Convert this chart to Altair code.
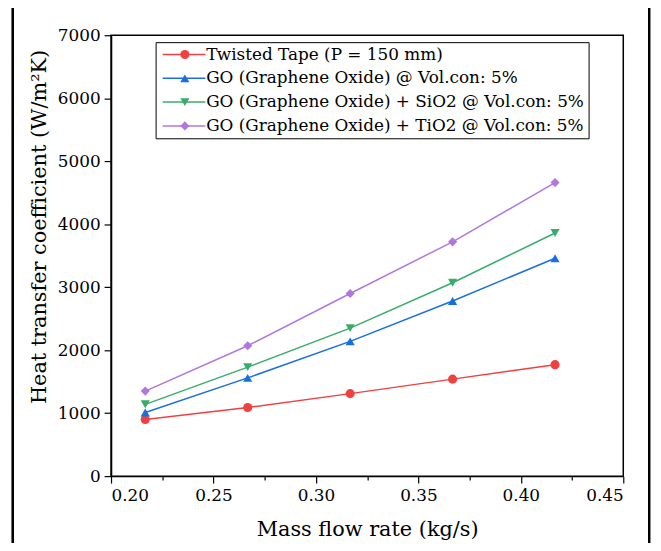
import altair as alt
import pandas as pd

# ---- data ----
mass_flow = [0.2167, 0.2667, 0.3167, 0.3667, 0.4167]
series_names = [
    "Twisted Tape (P = 150 mm)",
    "GO (Graphene Oxide) @ Vol.con: 5%",
    "GO (Graphene Oxide) + SiO2 @ Vol.con: 5%",
    "GO (Graphene Oxide) + TiO2 @ Vol.con: 5%",
]
twisted_tape = [900, 1090, 1310, 1540, 1770]
go_only = [1010, 1560, 2140, 2780, 3460]
go_sio2 = [1140, 1730, 2350, 3070, 3860]
go_tio2 = [1350, 2070, 2900, 3720, 4660]

colors = ["#F14040", "#1A6FDF", "#37AD6B", "#B177DE"]
shapes = ["circle", "triangle-up", "triangle-down", "diamond"]

x_ticks = [0.2, 0.225, 0.25, 0.275, 0.3, 0.325, 0.35, 0.375, 0.4, 0.425, 0.45]
y_ticks = list(range(0, 7001, 500))

rows = []
for order, (name, vals) in enumerate(zip(series_names, [twisted_tape, go_only, go_sio2, go_tio2])):
    for xv, yv in zip(mass_flow, vals):
        rows.append({"x": xv, "y": yv, "series": name, "order": order})
df = pd.DataFrame(rows)

FONT = "DejaVu Serif"
W, H = 517, 445

common_axis = dict(
    labelFont=FONT,
    titleFont=FONT,
    labelFontSize=17,
    titleFontSize=21,
    titleFontWeight="normal",
    labelColor="black",
    titleColor="black",
    domainColor="black",
    tickColor="black",
    domainWidth=1.5,
    tickWidth=1.2,
    grid=False,
)

x_enc = alt.X(
    "x:Q",
    scale=alt.Scale(domain=[0.2, 0.45], nice=False, zero=False),
    axis=alt.Axis(
        values=x_ticks,
        title="Mass flow rate (kg/s)",
        labelExpr="round(datum.value*1000) % 50 === 0 ? format(datum.value, '.2f') : ''",
        tickSize={"condition": {"test": "round(datum.value*1000) % 50 === 0", "value": 7}, "value": 4},
        labelPadding=5,
        titlePadding=15,
        **common_axis,
    ),
)
y_enc = alt.Y(
    "y:Q",
    scale=alt.Scale(domain=[0, 7000], nice=False),
    axis=alt.Axis(
        values=y_ticks,
        title="Heat transfer coefficient (W/m\u00b2K)",
        labelExpr="datum.value % 1000 === 0 ? datum.value : ''",
        tickSize={"condition": {"test": "datum.value % 1000 === 0", "value": 7}, "value": 4},
        labelPadding=4,
        titleX=-62,
        titleY=193,
        **common_axis,
    ),
)

LEG_FS = 17

lines = alt.Chart(df).mark_line(strokeWidth=1.5).encode(
    x=x_enc,
    y=y_enc,
    stroke=alt.Stroke(
        "series:N",
        scale=alt.Scale(domain=series_names, range=colors),
        legend=alt.Legend(
            title=None,
            orient="none",
            legendX=45,
            legendY=7,
            symbolType="M-1,0H7",
            symbolSize=116,
            symbolStrokeWidth=1.5,
            labelFont=FONT,
            labelFontSize=LEG_FS,
            labelColor="black",
            labelLimit=1000,
            strokeColor="black",
            padding=4,
            rowPadding=6,
            labelOffset=30,
        ),
    ),
    detail="series:N",
    order="x:Q",
)

points = alt.Chart(df).mark_point(filled=True, size=85, opacity=1).encode(
    x="x:Q",
    y="y:Q",
    fill=alt.Fill(
        "series:N",
        sort=alt.EncodingSortField(field="order", op="min"),
        scale=alt.Scale(range=colors),
        legend=alt.Legend(
            title=None,
            orient="none",
            legendX=62,
            legendY=7,
            symbolSize=85,
            labelFont=FONT,
            labelFontSize=LEG_FS,
            labelOpacity=0,
            labelLimit=1000,
            padding=4,
            rowPadding=6,
            labelOffset=6,
        ),
    ),
    shape=alt.Shape(
        "series:N",
        sort=alt.EncodingSortField(field="order", op="min"),
        scale=alt.Scale(range=shapes),
    ),
)

frame = alt.Chart(df).mark_rect(fill=None, stroke="black", strokeWidth=2).encode(
    x=alt.value(-99), x2=alt.value(543), y=alt.value(-40), y2=alt.value(600)
)

chart = (
    alt.layer(lines, points, frame)
    .properties(width=W, height=H, padding={"left": 104, "top": 25, "right": 30, "bottom": 65},
                autosize=alt.AutoSizeParams(type="none"), background="white")
    .configure_view(stroke="black", strokeWidth=1.5)
)

chart.save("out.html", embed_options={"renderer": "svg", "actions": False})
